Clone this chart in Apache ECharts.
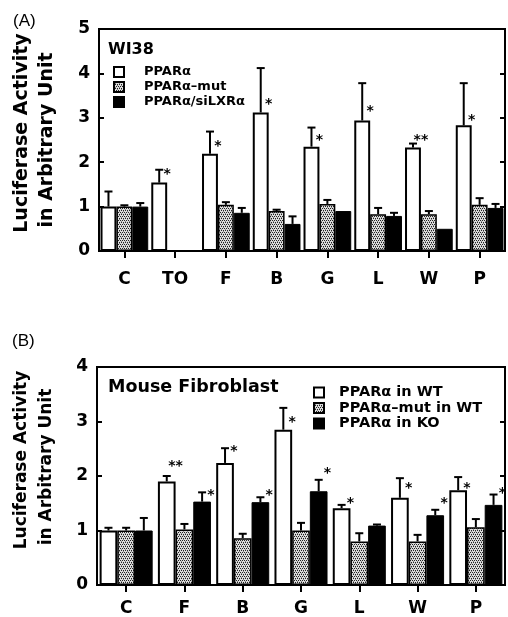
<!DOCTYPE html>
<html><head><meta charset="utf-8">
<script src="https://cdn.jsdelivr.net/npm/echarts@6/dist/echarts.min.js"></script>
<style>html,body{margin:0;padding:0;background:#fff}#c{width:508px;height:617px}</style>
</head><body><div id="c"></div>
<script>
// ---------- Panel A data (WI38) ----------
var catsA = ['C','TO','F','B','G','L','W','P'];
var namesA = ['PPARα','PPARα–mut','PPARα/siLXRα'];
var whiteA = [1.0, 1.54, 2.19, 3.12, 2.35, 2.94, 2.33, 2.83];
var whiteErrA = [1.34, 1.83, 2.69, 4.12, 2.78, 3.78, 2.42, 3.78];
var mutA = [1.0, null, 1.04, 0.90, 1.06, 0.83, 0.83, 1.04];
var mutErrA = [1.03, null, 1.10, 0.93, 1.15, 0.97, 0.90, 1.19];
var blackA = [1.0, null, 0.86, 0.61, 0.90, 0.79, 0.50, 0.97];
var blackErrA = [1.08, null, 0.97, 0.78, 0.90, 0.86, 0.50, 1.06];
var starTextA = ['', '*', '*', '*', '*', '*', '**', '*'];
var starYA = [null, 1.81, 2.45, 3.40, 2.58, 3.23, 2.58, 3.03];

// ---------- Panel B data (Mouse Fibroblast) ----------
var catsB = ['C','F','B','G','L','W','P'];
var namesB = ['PPARα in WT','PPARα–mut in WT','PPARα in KO'];
var whiteB = [1.0, 1.90, 2.24, 2.85, 1.41, 1.60, 1.74];
var whiteErrB = [1.05, 2.00, 2.51, 3.25, 1.47, 1.96, 1.98];
var mutB = [1.0, 1.02, 0.86, 1.00, 0.80, 0.80, 1.06];
var mutErrB = [1.05, 1.12, 0.94, 1.14, 0.95, 0.92, 1.21];
var blackB = [1.0, 1.53, 1.52, 1.72, 1.09, 1.28, 1.47];
var blackErrB = [1.23, 1.70, 1.61, 1.93, 1.11, 1.38, 1.66];
var starTextWB = ['', '**', '*', '*', '*', '*', '*'];
var starYWB = [null, 2.25, 2.53, 3.06, 1.58, 1.84, 1.84];
var starTextKB = ['', '*', '*', '*', '', '*', '*'];
var starYKB = [null, 1.72, 1.72, 2.12, null, 1.58, 1.75];

var FONT = '"DejaVu Sans", "Liberation Sans", Arial, sans-serif';
var FONT2 = '"Liberation Sans", Arial, Helvetica, sans-serif';

// stipple pattern for the mutant bars
var pc = document.createElement('canvas');
pc.width = 4; pc.height = 4;
var g = pc.getContext('2d');
g.fillStyle = '#dcdcdc'; g.fillRect(0,0,4,4);
g.fillStyle = '#222';
g.fillRect(0,0,1,1); g.fillRect(2,0,1,1); g.fillRect(1,2,1,1); g.fillRect(3,2,1,1);
g.fillStyle = '#888';
g.fillRect(1,1,1,1); g.fillRect(3,3,1,1);
var patternFill = {image: pc, repeat: 'repeat'};

var GAP_A = 0.06, GAP_B = 0.09;

function errRender(pos, gap) {
  return function(params, api) {
    var ci = api.value(0), v = api.value(1), e = api.value(2);
    var p0 = api.coord([ci, v]), p1 = api.coord([ci, e]);
    var band = api.size([1, 0])[0];
    var bw = band * (1 - gap) / 3;
    var x = p0[0] + (pos - 1) * bw;
    if (Math.abs(p1[1] - p0[1]) < 0.5) return null;
    return {type: 'group', children: [
      {type: 'line', shape: {x1: x, y1: p0[1], x2: x, y2: p1[1]}, style: {stroke: '#000', lineWidth: 2}},
      {type: 'line', shape: {x1: x - 4, y1: p1[1], x2: x + 4, y2: p1[1]}, style: {stroke: '#000', lineWidth: 2}}
    ]};
  };
}
function starRender(pos, gap, texts) {
  return function(params, api) {
    var ci = api.value(0), v = api.value(1);
    var p = api.coord([ci, v]);
    var band = api.size([1, 0])[0];
    var bw = band * (1 - gap) / 3;
    var x = p[0] + (pos - 1) * bw + bw * 0.5;
    return {type: 'text', x: x, y: p[1] + 4, style: {text: texts[ci], fill: '#000', font: 'bold 14px ' + FONT, textAlign: 'center', textVerticalAlign: 'middle'}};
  };
}
function triples(vals, errs) {
  var out = [];
  vals.forEach(function(v, i){ if (v != null) out.push([i, v, errs[i]]); });
  return out;
}
function pairs(ys) {
  var out = [];
  ys.forEach(function(v, i){ if (v != null) out.push([i, v]); });
  return out;
}
function barSeries(name, data, fill, xi, yi, gap, bw) {
  return {type: 'bar', name: name, data: data, xAxisIndex: xi, yAxisIndex: yi,
    barGap: '0%', barCategoryGap: (gap * 100) + '%',
    itemStyle: {color: fill, borderColor: '#000', borderWidth: bw}, z: 2};
}
function customSeries(render, data, xi, yi) {
  return {type: 'custom', renderItem: render, data: data, xAxisIndex: xi, yAxisIndex: yi, z: 3, silent: true};
}

var labelFont = {fontFamily: FONT, fontWeight: 'bold', fontSize: 17, color: '#000'};

function yAx(gi, max, left) {
  return {type: 'value', gridIndex: gi, min: 0, max: max, interval: 1, position: left ? 'left' : 'right',
    axisLine: {show: true, lineStyle: {color: '#000', width: 2}},
    axisTick: {show: true, inside: true, length: 5, lineStyle: {color: '#000', width: 2}},
    axisLabel: left ? Object.assign({margin: 9}, labelFont) : {show: false},
    splitLine: {show: false}};
}
function xAx(gi, cats, margin) {
  return {type: 'category', gridIndex: gi, data: cats,
    axisLine: {show: true, lineStyle: {color: '#000', width: 2}},
    axisTick: {show: true, alignWithLabel: true, length: 7, lineStyle: {color: '#000', width: 2}},
    axisLabel: Object.assign({margin: margin, interval: 0}, labelFont),
    splitLine: {show: false}};
}

var chart = echarts.init(document.getElementById('c'), null, {renderer: 'canvas'});
chart.setOption({
  animation: false,
  backgroundColor: '#fff',
  grid: [
    {left: 99, right: 3, top: 29, height: 222, show: true, borderColor: '#000', borderWidth: 2, backgroundColor: 'transparent'},
    {left: 97, right: 3, top: 367, height: 220, show: true, borderColor: '#000', borderWidth: 2, backgroundColor: 'transparent'}
  ],
  xAxis: [xAx(0, catsA, 20), xAx(1, catsB, 15)],
  yAxis: [yAx(0, 5, true), yAx(0, 5, false), yAx(1, 4, true), yAx(1, 4, false)],
  legend: [
    {data: namesA, orient: 'vertical', left: 108, top: 60, itemWidth: 10, itemHeight: 10, itemGap: 1,
     icon: 'rect', selectedMode: false,
     textStyle: {fontFamily: FONT, fontWeight: 'bold', fontSize: 13, color: '#000', lineHeight: 14, padding: [0,0,0,15]}},
    {data: namesB, orient: 'vertical', left: 308, top: 380, itemWidth: 10, itemHeight: 10, itemGap: 0.5,
     icon: 'rect', selectedMode: false,
     textStyle: {fontFamily: FONT, fontWeight: 'bold', fontSize: 14.5, color: '#000', lineHeight: 14, padding: [0,0,0,10]}}
  ],
  graphic: [
    {type: 'text', left: 13, top: 13, style: {text: '(A)', font: '17px ' + FONT2, fill: '#000'}},
    {type: 'text', left: 12, top: 333, style: {text: '(B)', font: '17px ' + FONT2, fill: '#000'}},
    {type: 'text', x: 22, y: 133, rotation: Math.PI / 2, style: {text: 'Luciferase Activity', font: 'bold 19px ' + FONT, fill: '#000', textAlign: 'center', textVerticalAlign: 'middle'}},
    {type: 'text', x: 47, y: 140, rotation: Math.PI / 2, style: {text: 'in Arbitrary Unit', font: 'bold 19px ' + FONT, fill: '#000', textAlign: 'center', textVerticalAlign: 'middle'}},
    {type: 'text', x: 22, y: 460, rotation: Math.PI / 2, style: {text: 'Luciferase Activity', font: 'bold 17px ' + FONT, fill: '#000', textAlign: 'center', textVerticalAlign: 'middle'}},
    {type: 'text', x: 47, y: 467, rotation: Math.PI / 2, style: {text: 'in Arbitrary Unit', font: 'bold 17px ' + FONT, fill: '#000', textAlign: 'center', textVerticalAlign: 'middle'}},
    {type: 'text', left: 108, top: 42, style: {text: 'WI38', font: 'bold 16px ' + FONT, fill: '#000'}},
    {type: 'text', left: 108, top: 378, style: {text: 'Mouse Fibroblast', font: 'bold 17.5px ' + FONT, fill: '#000'}}
  ],
  series: [
    barSeries(namesA[0], whiteA, '#fff', 0, 0, GAP_A, 2),
    barSeries(namesA[1], mutA, patternFill, 0, 0, GAP_A, 1.5),
    barSeries(namesA[2], blackA, '#000', 0, 0, GAP_A, 1),
    customSeries(errRender(0, GAP_A), triples(whiteA, whiteErrA), 0, 0),
    customSeries(errRender(1, GAP_A), triples(mutA, mutErrA), 0, 0),
    customSeries(errRender(2, GAP_A), triples(blackA, blackErrA), 0, 0),
    customSeries(starRender(0, GAP_A, starTextA), pairs(starYA), 0, 0),

    barSeries(namesB[0], whiteB, '#fff', 1, 2, GAP_B, 2),
    barSeries(namesB[1], mutB, patternFill, 1, 2, GAP_B, 1.5),
    barSeries(namesB[2], blackB, '#000', 1, 2, GAP_B, 1),
    customSeries(errRender(0, GAP_B), triples(whiteB, whiteErrB), 1, 2),
    customSeries(errRender(1, GAP_B), triples(mutB, mutErrB), 1, 2),
    customSeries(errRender(2, GAP_B), triples(blackB, blackErrB), 1, 2),
    customSeries(starRender(0, GAP_B, starTextWB), pairs(starYWB), 1, 2),
    customSeries(starRender(2, GAP_B, starTextKB), pairs(starYKB), 1, 2)
  ]
});
</script></body></html>
